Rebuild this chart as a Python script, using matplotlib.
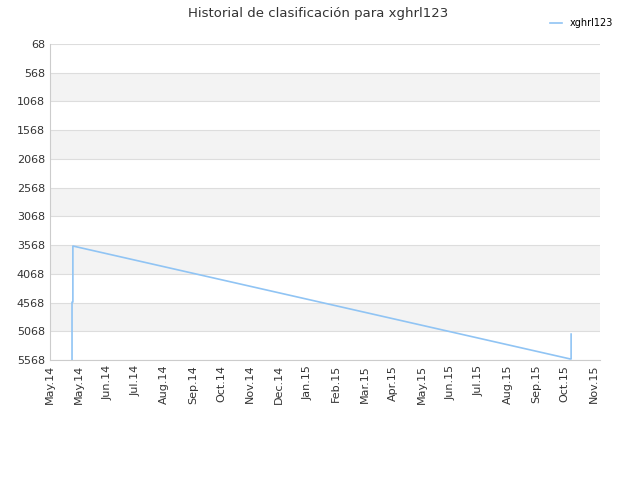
import matplotlib
matplotlib.use("Agg")
import matplotlib.pyplot as plt

# x in months from first tick; y = ranking position
month_labels = ["May.14", "May.14", "Jun.14", "Jul.14", "Aug.14", "Sep.14", "Oct.14",
                "Nov.14", "Dec.14", "Jan.15", "Feb.15", "Mar.15", "Apr.15", "May.15",
                "Jun.15", "Jul.15", "Aug.15", "Sep.15", "Oct.15", "Nov.15"]
x_vals = [0.77, 0.77, 0.80, 0.80, 18.19, 18.22, 18.22]
ranks = [5568, 4560, 4560, 3584, 5550, 5550, 5117]
y_ticks = list(range(68, 5569, 500))

fig = plt.figure(figsize=(6.4, 4.8), dpi=100)
ax = fig.add_axes([50 / 640, 1 - 360 / 480, 550 / 640, 316 / 480])

for i in range(len(y_ticks) - 1):
    if i % 2 == 1:
        ax.axhspan(y_ticks[i], y_ticks[i + 1], color="#f3f3f3", lw=0, zorder=0)
for y in y_ticks:
    ax.axhline(y, color="#dddddd", lw=0.8, zorder=1)

ax.plot(x_vals, ranks, color="#90c4f4", lw=1.2, label="xghrl123", zorder=3)

ax.set_ylim(5568, 68)
ax.set_xlim(0, 19.23)
ax.set_yticks(y_ticks)
ax.set_xticks(range(len(month_labels)))
ax.set_xticklabels(month_labels, rotation=90)
ax.tick_params(labelsize=8, colors="#333333", length=0)
for s in ["top", "right"]:
    ax.spines[s].set_visible(False)
for s in ["left", "bottom"]:
    ax.spines[s].set_color("#cccccc")

fig.text(0.497, 0.972, "Historial de clasificación para xghrl123", ha="center",
         va="center", fontsize=9.5, color="#333333")
ax.legend(loc="upper right", bbox_to_anchor=(1.04, 1.11), frameon=False,
          fontsize=7, handlelength=1.2)

fig.savefig("out.png")
